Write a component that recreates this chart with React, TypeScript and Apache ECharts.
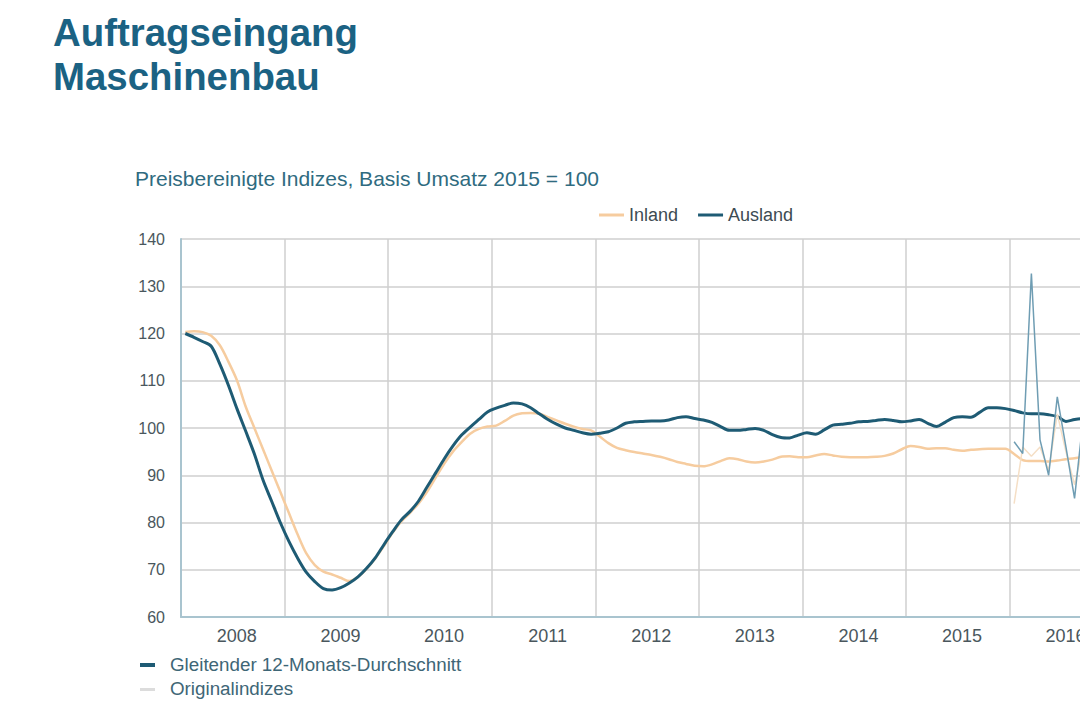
import React, { useEffect, useRef } from "react";
import * as echarts from "echarts";

const years = ["2008", "2009", "2010", "2011", "2012", "2013", "2014", "2015", "2016", "2017"];
const yTicks = { min: 60, max: 140, step: 10 };

// Gleitender 12-Monats-Durchschnitt, monthly from Jan 2008
const auslandMA = [
  120.0, 119.2, 118.3, 117.3, 113.5, 109.0, 104.0, 99.3, 94.5, 89.0, 84.5, 80.0,
  76.0, 72.5, 69.5, 67.5, 66.0, 65.7, 66.2, 67.2, 68.5, 70.3, 72.5, 75.3,
  78.0, 80.5, 82.3, 84.5, 87.5, 90.5, 93.5, 96.2, 98.5, 100.2, 101.8, 103.4,
  104.2, 104.8, 105.3, 105.1, 104.3, 103.0, 101.8, 100.8, 100.0, 99.5, 99.0, 98.7,
  98.9, 99.2, 100.0, 101.0, 101.3, 101.4, 101.5, 101.5, 101.7, 102.2, 102.4, 102.0,
  101.7, 101.2, 100.3, 99.5, 99.5, 99.7, 99.9, 99.5, 98.6, 98.0, 97.9, 98.5,
  99.0, 98.7, 99.6, 100.6, 100.8, 101.0, 101.3, 101.4, 101.6, 101.8, 101.6, 101.3,
  101.5, 101.8, 101.0, 100.3, 101.2, 102.2, 102.4, 102.3, 103.3, 104.3, 104.3, 104.1,
  103.7, 103.2, 103.0, 103.0, 102.8, 102.4, 101.4, 101.8, 102.0,
];
const inlandMA = [
  120.3, 120.5, 120.3, 119.5, 117.5, 114.0, 110.0, 104.5, 100.0, 95.5, 91.0, 86.5,
  82.0, 77.5, 73.5, 71.0, 69.6, 69.0, 68.3, 67.6, 68.5, 70.2, 72.4, 75.0,
  77.8, 80.2, 82.0, 84.0, 86.5, 89.5, 92.5, 95.0, 97.0, 98.8, 99.8, 100.3,
  100.5, 101.5, 102.6, 103.1, 103.2, 103.0, 102.3, 101.6, 100.9, 100.3, 99.8, 99.5,
  98.2, 96.8, 95.8, 95.3, 94.9, 94.6, 94.3, 93.9, 93.4, 92.8, 92.4, 92.0,
  91.9, 92.3, 93.0, 93.6, 93.4, 92.9, 92.7, 92.9, 93.3, 93.9, 94.0, 93.8,
  93.8, 94.2, 94.5, 94.2, 93.9, 93.8, 93.8, 93.8, 93.9, 94.1, 94.6, 95.5,
  96.2, 96.0, 95.6, 95.7, 95.7, 95.4, 95.2, 95.4, 95.5, 95.6, 95.6, 95.6,
  94.5, 93.2, 93.0, 93.0, 92.9, 93.1, 93.4, 93.6, 94.0,
];
// Originalindizes, monthly from Jan 2016
const origStartMonth = 96;
const auslandOrig = [97.1, 94.6, 132.7, 97.5, 90.0, 106.6, 96.0, 85.1, 102.0];
const inlandOrig = [84.0, 96.0, 94.0, 96.0, 91.0, 103.0, 95.0, 88.0, 96.0];

const FONT = "'Liberation Sans', Arial, Helvetica, sans-serif";
const C_AUS = "#1e5b74";
const C_IN = "#f6cc9f";
const C_AUS_O = "#6f9db3";
const C_IN_O = "#f5dfc6";

const toPairs = (arr: number[], start: number) => arr.map((v, i) => [start + i + 0.5, v]);

export default function App() {
  const ref = useRef<HTMLDivElement>(null);
  useEffect(() => {
    if (!ref.current) return;
    const chart = echarts.init(ref.current, null, { renderer: "svg" });
    const nMonths = years.length * 12;
    chart.setOption({
      animation: false,
      backgroundColor: "#ffffff",
      textStyle: { fontFamily: FONT },
      grid: { left: 181, top: 239, width: 1036, height: 378, containLabel: false },
      legend: {
        data: ["Inland", "Ausland"],
        left: 594,
        top: 201,
        icon: "rect",
        itemWidth: 25,
        itemHeight: 3,
        itemGap: 20,
        textStyle: { fontSize: 18, color: "#3d4b52", fontFamily: FONT },
      },
      xAxis: [
        {
          type: "value",
          min: 0,
          max: nMonths,
          interval: 12,
          axisLine: { show: true, lineStyle: { color: "#a9c4cf", width: 2 } },
          axisTick: { show: false },
          axisLabel: { show: false },
          splitLine: { show: true, lineStyle: { color: "#cfcfcf", width: 1.5 } },
        },
        {
          type: "category",
          data: years,
          boundaryGap: true,
          position: "bottom",
          axisLine: { show: false },
          axisTick: { show: false },
          splitLine: { show: false },
          axisLabel: { fontSize: 18, color: "#4a575d", margin: 10, padding: [0, 0, 0, 8], fontFamily: FONT },
        },
      ],
      yAxis: {
        type: "value",
        min: yTicks.min,
        max: yTicks.max,
        interval: yTicks.step,
        axisLine: { show: true, lineStyle: { color: "#a9c4cf", width: 2 } },
        axisTick: { show: false },
        axisLabel: { fontSize: 16, color: "#4a575d", margin: 16, fontFamily: FONT },
        splitLine: { show: true, lineStyle: { color: "#cfcfcf", width: 1.5 } },
      },
      series: [
        {
          name: "Inland",
          type: "line",
          xAxisIndex: 0,
          data: toPairs(inlandMA, 0),
          showSymbol: false,
          smooth: 0.3,
          lineStyle: { color: C_IN, width: 2.5 },
          itemStyle: { color: C_IN },
          z: 2,
        },
        {
          name: "Ausland",
          type: "line",
          xAxisIndex: 0,
          data: toPairs(auslandMA, 0),
          showSymbol: false,
          smooth: 0.3,
          lineStyle: { color: C_AUS, width: 3 },
          itemStyle: { color: C_AUS },
          z: 3,
        },
        {
          name: "Inland original",
          type: "line",
          xAxisIndex: 0,
          data: toPairs(inlandOrig, origStartMonth),
          showSymbol: false,
          lineStyle: { color: C_IN_O, width: 1.5 },
          itemStyle: { color: C_IN_O },
          z: 4,
        },
        {
          name: "Ausland original",
          type: "line",
          xAxisIndex: 0,
          data: toPairs(auslandOrig, origStartMonth),
          showSymbol: false,
          lineStyle: { color: C_AUS_O, width: 1.5 },
          itemStyle: { color: C_AUS_O },
          z: 5,
        },
      ],
      graphic: [
        {
          type: "text",
          left: 53,
          top: 10,
          style: {
            text: "Auftragseingang\nMaschinenbau",
            fontSize: 38.4,
            fontWeight: "bold",
            fontFamily: FONT,
            fill: "#1b6283",
            lineHeight: 44,
          },
        },
        {
          type: "text",
          left: 135,
          top: 168,
          style: {
            text: "Preisbereinigte Indizes, Basis Umsatz 2015 = 100",
            fontSize: 21,
            fontFamily: FONT,
            fill: "#2f6b80",
          },
        },
        { type: "rect", shape: { x: 140, y: 663, width: 15, height: 4 }, style: { fill: C_AUS } },
        {
          type: "text",
          left: 170,
          top: 655,
          style: { text: "Gleitender 12-Monats-Durchschnitt", fontSize: 18.8, fontFamily: FONT, fill: "#3e6676" },
        },
        { type: "rect", shape: { x: 140, y: 688, width: 15, height: 3 }, style: { fill: "#dcdcdc" } },
        {
          type: "text",
          left: 170,
          top: 679,
          style: { text: "Originalindizes", fontSize: 18.8, fontFamily: FONT, fill: "#3e6676" },
        },
      ],
    });
    return () => chart.dispose();
  }, []);
  return (
    <div
      ref={ref}
      style={{ position: "fixed", left: 0, top: 0, width: "1300px", height: "720px", background: "#fff" }}
    />
  );
}
